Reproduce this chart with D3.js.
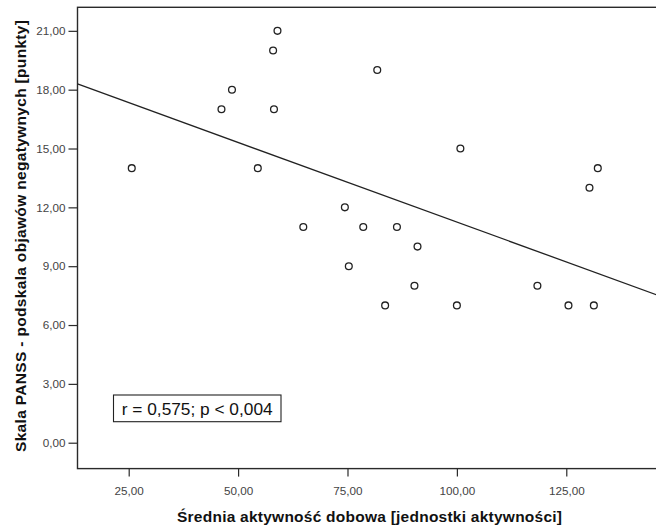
<!DOCTYPE html>
<html><head><meta charset="utf-8">
<script src="https://cdn.jsdelivr.net/npm/d3@7"></script>
<style>html,body{margin:0;padding:0;background:#fff;overflow:hidden}</style>
</head><body>
<svg id="chart" width="656" height="527"></svg>
<script>
// Data (x: mean daily activity, y: PANSS negative subscale)
const activity = [25.7, 46.2, 48.6, 59.0, 58.0, 58.2, 54.5, 74.4, 64.9, 78.6, 81.8, 100.8, 132.2, 130.3, 86.3, 91.0, 75.3, 90.3, 83.6, 100.0, 118.4, 125.5, 131.3];
const panss    = [14,   17,   18,   21,   20,   17,   14,   12,   11,   11,   19,   15,    14,    13,    11,   10,   9,    8,    7,    7,     8,     7,     7];
const xTickValues = [25, 50, 75, 100, 125];
const yTickValues = [0, 3, 6, 9, 12, 15, 18, 21];
const xTitle = "Średnia aktywność dobowa [jednostki aktywności]";
const yTitle = "Skala PANSS - podskala objawów negatywnych [punkty]";
const statText = "r = 0,575; p < 0,004";

const locale = d3.formatLocale({decimal: ",", thousands: " ", grouping: [3], currency: ["", ""]});
const fmt = locale.format(".2f");
const FONT = "Liberation Sans, Arial, sans-serif";

const svg = d3.select("#chart");
const L = 77.5, T = 7.3, B = 468.6, R = 698;
const x = d3.scaleLinear().domain([13.3, 155.1]).range([L, R]);
const y = d3.scaleLinear().domain([-1.32, 22.2]).range([B, T]);

svg.append("defs").append("clipPath").attr("id", "clip")
  .append("rect").attr("x", L).attr("y", T).attr("width", R - L).attr("height", B - T);

// Frame
svg.append("rect").attr("x", L).attr("y", T).attr("width", R - L).attr("height", B - T)
  .attr("fill", "none").attr("stroke", "#2a2a2a").attr("stroke-width", 1.4);

// Axes
const xAxis = d3.axisBottom(x).tickValues(xTickValues).tickFormat(fmt).tickSize(8).tickPadding(10.5);
const gx = svg.append("g").attr("transform", `translate(0,${B})`).call(xAxis);
const yAxis = d3.axisLeft(y).tickValues(yTickValues).tickFormat(fmt).tickSize(9).tickPadding(3);
const gy = svg.append("g").attr("transform", `translate(${L},0)`).call(yAxis);
[gx, gy].forEach(g => {
  g.select(".domain").remove();
  g.selectAll(".tick line").attr("stroke", "#2a2a2a").attr("stroke-width", 1.2);
  g.selectAll(".tick text").attr("fill", "#444").attr("font-family", FONT).attr("font-size", 11.7);
});

// Regression line (least squares from data)
const mx = d3.mean(activity), my = d3.mean(panss);
let sxy = 0, sxx = 0;
activity.forEach((v, i) => { sxy += (v - mx) * (panss[i] - my); sxx += (v - mx) * (v - mx); });
const slope = sxy / sxx, intercept = my - slope * mx;
const xd = x.domain();
svg.append("line").attr("clip-path", "url(#clip)")
  .attr("x1", x(xd[0])).attr("y1", y(intercept + slope * xd[0]))
  .attr("x2", x(xd[1])).attr("y2", y(intercept + slope * xd[1]))
  .attr("stroke", "#222").attr("stroke-width", 1.3);

// Points
svg.append("g").selectAll("circle").data(activity.map((v, i) => [v, panss[i]])).join("circle")
  .attr("cx", d => x(d[0])).attr("cy", d => y(d[1])).attr("r", 3.4)
  .attr("fill", "#fff").attr("stroke", "#222").attr("stroke-width", 1.3);

// Stat box
svg.append("rect").attr("x", 113.5).attr("y", 395).attr("width", 167.5).attr("height", 26.7)
  .attr("fill", "#fff").attr("stroke", "#222").attr("stroke-width", 1.1);
svg.append("text").attr("x", 197.2).attr("y", 414.8).attr("text-anchor", "middle")
  .attr("font-family", FONT).attr("font-size", 17.3).attr("fill", "#111")
  .text(statText);

// Axis titles
svg.append("text").attr("x", 369.5).attr("y", 522).attr("text-anchor", "middle")
  .attr("font-family", FONT).attr("font-weight", "bold").attr("font-size", 15.5).attr("fill", "#111")
  .attr("textLength", 385).attr("lengthAdjust", "spacing")
  .text(xTitle);
svg.append("text").attr("transform", "translate(26,236) rotate(-90)").attr("text-anchor", "middle")
  .attr("font-family", FONT).attr("font-weight", "bold").attr("font-size", 15.5).attr("fill", "#111")
  .attr("textLength", 432).attr("lengthAdjust", "spacing")
  .text(yTitle);
</script>
</body></html>
